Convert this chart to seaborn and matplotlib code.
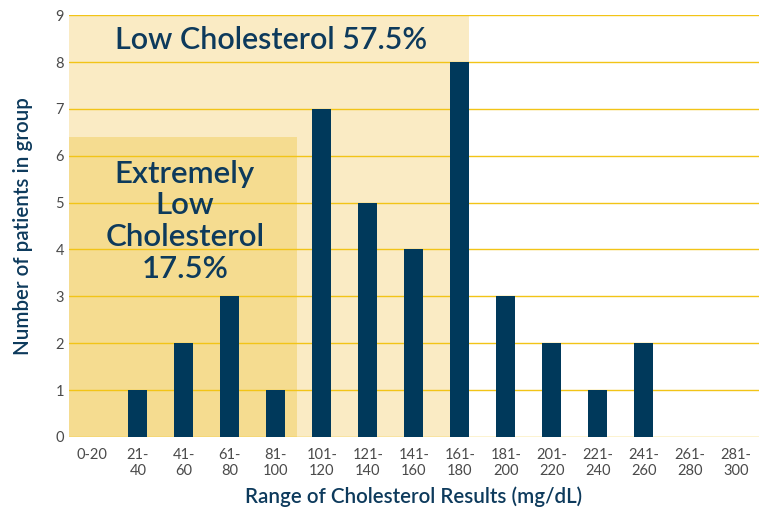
import pandas as pd
import seaborn as sns
import matplotlib.pyplot as plt

ranges = ['0-20', '21-\n40', '41-\n60', '61-\n80', '81-\n100', '101-\n120', '121-\n140',
          '141-\n160', '161-\n180', '181-\n200', '201-\n220', '221-\n240', '241-\n260',
          '261-\n280', '281-\n300']
patients = [0, 1, 2, 3, 1, 7, 5, 4, 8, 3, 2, 1, 2, 0, 0]

navy = '#00395b'
text_navy = '#0d3a5c'
light = '#faebc4'
darker = '#f5dc90'
grid = '#f2c417'

sns.set_theme(style='white')
plt.rcParams['font.family'] = ['Lato', 'DejaVu Sans']

df = pd.DataFrame({'range': ranges, 'patients': patients})

fig = plt.figure(figsize=(7.65, 5.08), dpi=100)
ax = fig.add_axes([0.090, 0.140, 0.902, 0.830])

# shaded bands (low / extremely low)
ax.axvspan(-0.5, 8.2, ymin=0, ymax=1, color=light, lw=0, zorder=0)
ax.fill_between([-0.5, 4.47], 0, 6.4, color=darker, lw=0, zorder=0.5)

for y in range(0, 10):
    ax.axhline(y, color=grid, lw=1.0, zorder=1)

sns.barplot(data=df, x='range', y='patients', color=navy, width=0.41,
            saturation=1, edgecolor='none', linewidth=0, ax=ax, zorder=2)

ax.set_xlim(-0.5, 14.5)
ax.set_ylim(0, 9)
ax.set_yticks(range(0, 10))
ax.tick_params(axis='both', length=0, labelsize=10.5, labelcolor='#4a4a4a')
ax.tick_params(axis='x', pad=8)
for s in ax.spines.values():
    s.set_visible(False)

ax.set_xlabel('Range of Cholesterol Results (mg/dL)', fontsize=14.8, color=text_navy,
              fontweight='semibold', labelpad=6)
ax.set_ylabel('Number of patients in group', fontsize=14.8, color=text_navy,
              fontweight='semibold', labelpad=16)

ax.text(3.89, 8.47, 'Low Cholesterol 57.5%', ha='center', va='center', fontsize=22,
        color=text_navy, fontweight='semibold')
ax.text(2.02, 4.6, 'Extremely\nLow\nCholesterol\n17.5%', ha='center', va='center',
        fontsize=22.5, color=text_navy, fontweight='semibold', linespacing=1.17)

plt.savefig('out.png', dpi=100)
